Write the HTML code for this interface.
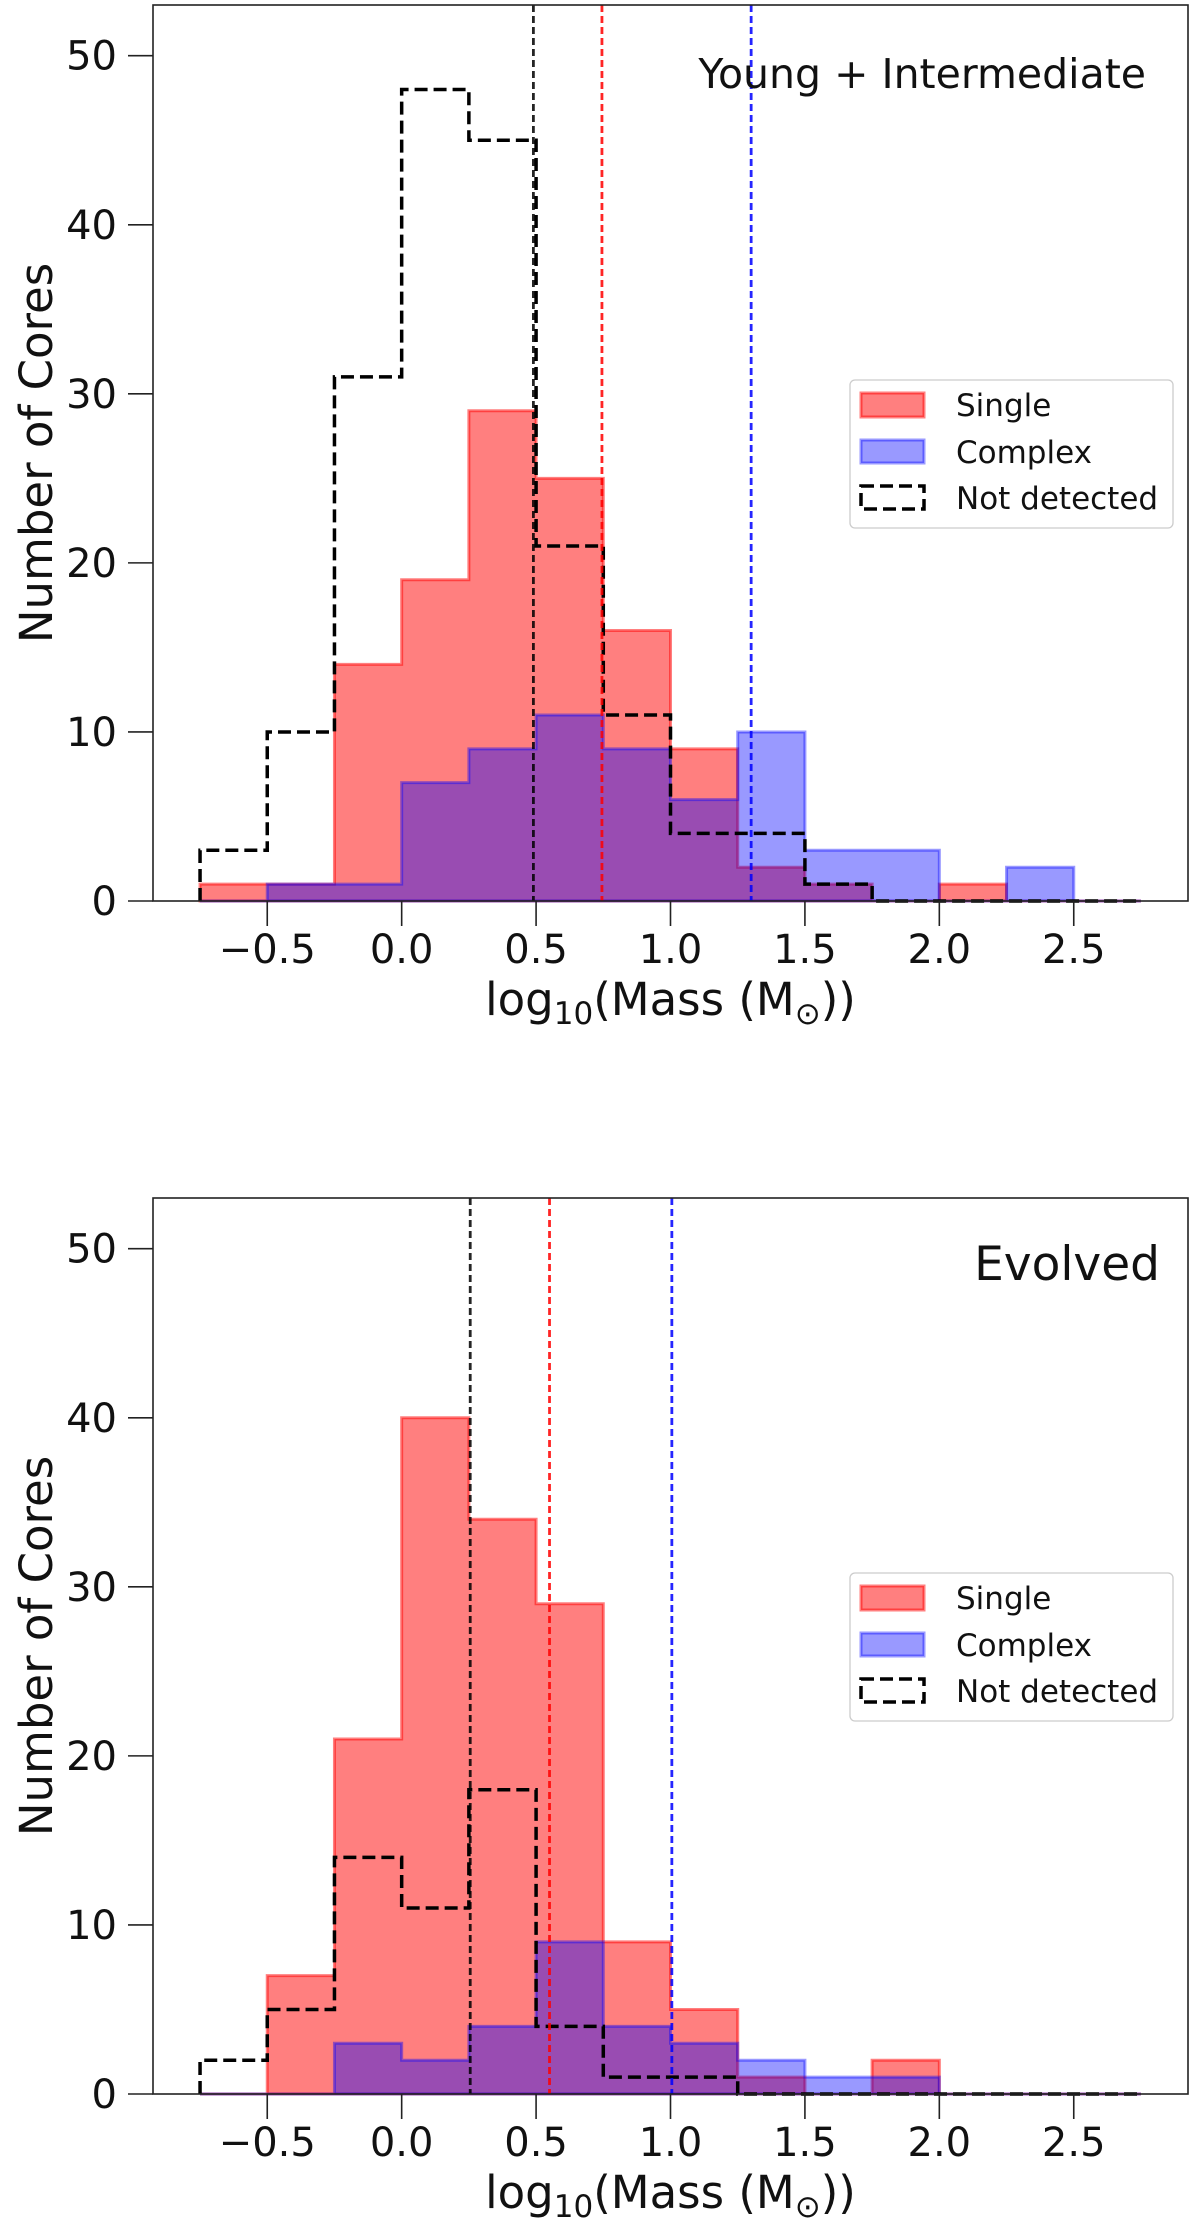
<!DOCTYPE html>
<html><head><meta charset="utf-8"><style>
html,body{margin:0;padding:0;background:#fff;}
svg{display:block;font-family:"DejaVu Sans","Liberation Sans",sans-serif;}
</style></head><body>
<svg id="fig" width="1200" height="2222" viewBox="0 0 1200 2222" xmlns="http://www.w3.org/2000/svg"></svg>
<script>
const binEdges = [-0.75,-0.5,-0.25,0,0.25,0.5,0.75,1.0,1.25,1.5,1.75,2.0,2.25,2.5,2.75];
const xTicks = [-0.5,0.0,0.5,1.0,1.5,2.0,2.5];
const xTickLabels = ["\u22120.5","0.0","0.5","1.0","1.5","2.0","2.5"];
const yTicks = [0,10,20,30,40,50];
const yTickLabels = ["0","10","20","30","40","50"];

const topSingle   = [1,1,14,19,29,25,16,9,2,1,0,1,0,0];
const topComplex  = [0,1,1,7,9,11,9,6,10,3,3,0,2,0];
const topNotDet   = [3,10,31,48,45,21,11,4,4,1,0,0,0,0];
const topMedians  = [0.49,0.745,1.30];
const topTitle = "Young + Intermediate";

const botSingle   = [0,7,21,40,34,29,9,5,1,0,2,0,0,0];
const botComplex  = [0,0,3,2,4,9,4,3,2,1,1,0,0,0];
const botNotDet   = [2,5,14,11,18,4,1,1,0,0,0,0,0,0];
const botMedians  = [0.255,0.55,1.005];
const botTitle = "Evolved";

const NS = "http://www.w3.org/2000/svg";
const svg = document.getElementById('fig');
function mk(tag, attrs, parent){
  const e = document.createElementNS(NS, tag);
  for (const k in attrs) e.setAttribute(k, attrs[k]);
  (parent||svg).appendChild(e);
  return e;
}

function panel(offY, single, complex, notdet, medians, title, titleSize, titleX, titleY, key){
  const L=153, R=1188, T=5+offY, B=901+offY;
  const xmin=-0.925, xmax=2.925, ymax=53;
  const X = v => L + (v-xmin)/(xmax-xmin)*(R-L);
  const Y = v => B - v/ymax*(B-T);
  const g = mk('g', {});
  
  

  function stepPath(vals, closed){
    let d = 'M'+X(binEdges[0])+','+Y(0);
    for (let i=0;i<vals.length;i++){
      d += ' L'+X(binEdges[i])+','+Y(vals[i])+' L'+X(binEdges[i+1])+','+Y(vals[i]);
    }
    d += ' L'+X(binEdges[binEdges.length-1])+','+Y(0);
    if (closed) d += ' Z';
    return d;
  }
  const ps = mk('path', {d:stepPath(single,true), fill:'rgba(255,0,0,0.5)', stroke:'rgba(255,0,0,0.5)', 'stroke-width':3}, g);
  
  
  const pc = mk('path', {d:stepPath(complex,true), fill:'rgba(0,0,255,0.4)', stroke:'rgba(0,0,255,0.4)', 'stroke-width':3}, g);
  
  
  const pn = mk('path', {d:stepPath(notdet,false), fill:'none', stroke:'#000', 'stroke-width':3.5, 'stroke-dasharray':'13,6'}, g);
  
  

  const mcol = ['#000','#ff0000','#0000ff'];
  const mnames = ['not-detected-median-line','single-median-line','complex-median-line'];
  medians.forEach((m,i)=>{
    const l = mk('line', {x1:X(m), x2:X(m), y1:T, y2:B, stroke:mcol[i], 'stroke-width':2.8, 'stroke-dasharray':'7,4', opacity:0.85}, g);
    
    
  });

  const fr = mk('rect', {x:L, y:T, width:R-L, height:B-T, fill:'none', stroke:'#222', 'stroke-width':1.6}, g);
  
  

  xTicks.forEach((v,i)=>{
    mk('line', {x1:X(v), x2:X(v), y1:B, y2:B+25, stroke:'#222', 'stroke-width':1.6}, g);
    const t = mk('text', {x:X(v), y:B+62, 'font-size':40, 'text-anchor':'middle', fill:'#111'}, g);
    t.textContent = xTickLabels[i];
    
    
  });
  yTicks.forEach((v,i)=>{
    mk('line', {x1:L-25, x2:L, y1:Y(v), y2:Y(v), stroke:'#222', 'stroke-width':1.6}, g);
    const t = mk('text', {x:L-36, y:Y(v)+14, 'font-size':40, 'text-anchor':'end', fill:'#111'}, g);
    t.textContent = yTickLabels[i];
    
    
  });

  const xl = mk('text', {x:(L+R)/2, y:B+114, 'font-size':45, 'text-anchor':'middle', fill:'#111'}, g);
  xl.innerHTML = 'log<tspan font-size="31" dy="9">10</tspan><tspan dy="-9">(Mass (M</tspan><tspan font-size="31" dy="9">\u2299</tspan><tspan dy="-9">))</tspan>';
  
  

  const yl = mk('text', {x:0, y:0, 'font-size':45, 'text-anchor':'middle', fill:'#111', transform:'translate(52,'+((T+B)/2)+') rotate(-90)'}, g);
  yl.textContent = 'Number of Cores';
  
  

  const tt = mk('text', {x:titleX, y:titleY+offY, 'font-size':titleSize, 'text-anchor':'end', fill:'#111'}, g);
  tt.textContent = title;
  
  

  const lg = mk('g', {}, g);
  
  
  mk('rect', {x:850, y:380+offY, width:323, height:148, rx:5, fill:'#fff', 'fill-opacity':0.85, stroke:'#ccc', 'stroke-width':1.3}, lg);
  mk('rect', {x:861, y:393+offY, width:63, height:24, fill:'rgba(255,0,0,0.5)', stroke:'rgba(255,0,0,0.5)', 'stroke-width':3}, lg);
  mk('rect', {x:861, y:440+offY, width:63, height:23, fill:'rgba(0,0,255,0.4)', stroke:'rgba(0,0,255,0.4)', 'stroke-width':3}, lg);
  mk('rect', {x:861, y:486+offY, width:63, height:23, fill:'none', stroke:'#000', 'stroke-width':3.5, 'stroke-dasharray':'13,6'}, lg);
  const labels = ['Single','Complex','Not detected'];
  const ly = [416,463,509];
  const ln = ['legend-entry-single','legend-entry-complex','legend-entry-not-detected'];
  labels.forEach((s,i)=>{
    const t = mk('text', {x:956, y:ly[i]+offY, 'font-size':31, fill:'#111'}, lg);
    t.textContent = s;
    
    
  });
}

panel(0, topSingle, topComplex, topNotDet, topMedians, topTitle, 41, 1146, 88, 'top');
panel(1193, botSingle, botComplex, botNotDet, botMedians, botTitle, 47, 1160, 87, 'bottom');
</script>
</body></html>
